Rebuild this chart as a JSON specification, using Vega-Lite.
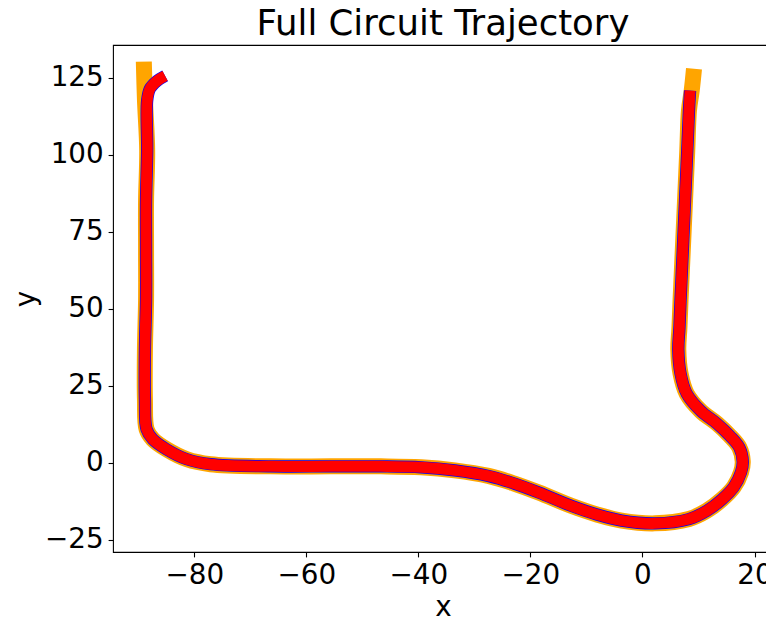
{
  "$schema": "https://vega.github.io/schema/vega-lite/v6.json",
  "autosize": {"type": "none"},
  "padding": {"left": 113, "top": 45, "right": 0, "bottom": 66},
  "width": 660,
  "height": 507,
  "background": "white",
  "title": {"text": "Full Circuit Trajectory", "font": "DejaVu Sans", "fontSize": 35.5, "fontWeight": "normal", "color": "black", "offset": 8.3, "dy": 34, "baseline": "alphabetic", "anchor": "middle"},
  "config": {
    "view": {"stroke": "black", "strokeWidth": 1.1},
    "axis": {"grid": false, "domain": false, "tickColor": "black", "tickSize": 4.9, "tickWidth": 1.1, "labelFont": "DejaVu Sans", "labelFontSize": 27.8, "labelColor": "black", "labelPadding": 4.9, "titleFont": "DejaVu Sans", "titleFontSize": 27.8, "titleFontWeight": "normal", "titleColor": "black", "titlePadding": 4, "labelFlush": false, "labelOverlap": false}
  },
  "datasets": {
    "track": [
      {"i": 0, "x": -89.0, "y": 130.3},
      {"i": 1, "x": -88.8, "y": 118.0},
      {"i": 2, "x": -88.4, "y": 101.5},
      {"i": 3, "x": -88.6, "y": 85.3},
      {"i": 4, "x": -88.6, "y": 69.1},
      {"i": 5, "x": -88.6, "y": 52.9},
      {"i": 6, "x": -88.8, "y": 36.8},
      {"i": 7, "x": -88.8, "y": 20.6},
      {"i": 8, "x": -88.5, "y": 10.9},
      {"i": 9, "x": -87.4, "y": 7.7},
      {"i": 10, "x": -84.9, "y": 4.4},
      {"i": 11, "x": -81.3, "y": 1.2},
      {"i": 12, "x": -77.1, "y": -0.4},
      {"i": 13, "x": -66.4, "y": -1.1},
      {"i": 14, "x": -55.6, "y": -1.1},
      {"i": 15, "x": -46.7, "y": -1.1},
      {"i": 16, "x": -39.5, "y": -1.4},
      {"i": 17, "x": -33.5, "y": -2.4},
      {"i": 18, "x": -27.5, "y": -4.2},
      {"i": 19, "x": -23.0, "y": -6.6},
      {"i": 20, "x": -18.5, "y": -9.6},
      {"i": 21, "x": -12.6, "y": -14.0},
      {"i": 22, "x": -8.0, "y": -16.8},
      {"i": 23, "x": -3.7, "y": -18.7},
      {"i": 24, "x": 2.2, "y": -19.6},
      {"i": 25, "x": 8.3, "y": -18.2},
      {"i": 26, "x": 11.5, "y": -15.5},
      {"i": 27, "x": 14.2, "y": -11.8},
      {"i": 28, "x": 16.3, "y": -7.8},
      {"i": 29, "x": 17.6, "y": -3.0},
      {"i": 30, "x": 17.9, "y": 0.5},
      {"i": 31, "x": 17.3, "y": 5.0},
      {"i": 32, "x": 15.6, "y": 8.8},
      {"i": 33, "x": 13.3, "y": 12.8},
      {"i": 34, "x": 10.4, "y": 16.9},
      {"i": 35, "x": 7.9, "y": 22.5},
      {"i": 36, "x": 6.8, "y": 29.0},
      {"i": 37, "x": 6.4, "y": 36.8},
      {"i": 38, "x": 6.6, "y": 43.9},
      {"i": 39, "x": 6.8, "y": 52.9},
      {"i": 40, "x": 7.2, "y": 69.1},
      {"i": 41, "x": 7.6, "y": 85.3},
      {"i": 42, "x": 8.0, "y": 101.5},
      {"i": 43, "x": 8.3, "y": 114.4},
      {"i": 44, "x": 8.8, "y": 121.0},
      {"i": 45, "x": 9.2, "y": 128.0}
    ],
    "traj": [
      {"i": 0, "x": -85.2, "y": 125.7},
      {"i": 1, "x": -86.6, "y": 124.1},
      {"i": 2, "x": -87.9, "y": 121.5},
      {"i": 3, "x": -88.4, "y": 117.7},
      {"i": 4, "x": -88.4, "y": 101.5},
      {"i": 5, "x": -88.6, "y": 85.3},
      {"i": 6, "x": -88.6, "y": 69.1},
      {"i": 7, "x": -88.6, "y": 52.9},
      {"i": 8, "x": -88.8, "y": 36.8},
      {"i": 9, "x": -88.8, "y": 20.6},
      {"i": 10, "x": -88.5, "y": 10.9},
      {"i": 11, "x": -87.4, "y": 7.7},
      {"i": 12, "x": -84.9, "y": 4.4},
      {"i": 13, "x": -81.3, "y": 1.2},
      {"i": 14, "x": -77.1, "y": -0.4},
      {"i": 15, "x": -66.4, "y": -1.1},
      {"i": 16, "x": -55.6, "y": -1.1},
      {"i": 17, "x": -46.7, "y": -1.1},
      {"i": 18, "x": -39.5, "y": -1.4},
      {"i": 19, "x": -33.5, "y": -2.4},
      {"i": 20, "x": -27.5, "y": -4.2},
      {"i": 21, "x": -23.0, "y": -6.6},
      {"i": 22, "x": -18.5, "y": -9.6},
      {"i": 23, "x": -12.6, "y": -14.0},
      {"i": 24, "x": -8.0, "y": -16.8},
      {"i": 25, "x": -3.7, "y": -18.7},
      {"i": 26, "x": 2.2, "y": -19.6},
      {"i": 27, "x": 8.3, "y": -18.2},
      {"i": 28, "x": 11.5, "y": -15.5},
      {"i": 29, "x": 14.2, "y": -11.8},
      {"i": 30, "x": 16.3, "y": -7.8},
      {"i": 31, "x": 17.6, "y": -3.0},
      {"i": 32, "x": 17.9, "y": 0.5},
      {"i": 33, "x": 17.3, "y": 5.0},
      {"i": 34, "x": 15.6, "y": 8.8},
      {"i": 35, "x": 13.3, "y": 12.8},
      {"i": 36, "x": 10.4, "y": 16.9},
      {"i": 37, "x": 7.9, "y": 22.5},
      {"i": 38, "x": 6.8, "y": 29.0},
      {"i": 39, "x": 6.4, "y": 36.8},
      {"i": 40, "x": 6.6, "y": 43.9},
      {"i": 41, "x": 6.8, "y": 52.9},
      {"i": 42, "x": 7.2, "y": 69.1},
      {"i": 43, "x": 7.6, "y": 85.3},
      {"i": 44, "x": 8.0, "y": 101.5},
      {"i": 45, "x": 8.3, "y": 114.4},
      {"i": 46, "x": 8.5, "y": 120.9}
    ]
  },
  "encoding": {
    "x": {"field": "x", "type": "quantitative", "scale": {"domain": [-94.5, 23.3], "nice": false, "zero": false}, "axis": {"values": [-80, -60, -40, -20, 0, 20], "title": "x"}},
    "y": {"field": "y", "type": "quantitative", "scale": {"domain": [-28.9, 135.7], "nice": false, "zero": false}, "axis": {"values": [-25, 0, 25, 50, 75, 100, 125], "title": "y"}},
    "order": {"field": "i", "type": "quantitative"}
  },
  "layer": [
    {"data": {"name": "track"}, "mark": {"type": "line", "color": "#FFA500", "strokeWidth": 16, "strokeCap": "butt", "strokeJoin": "round", "interpolate": "catmull-rom", "clip": true}},
    {"data": {"name": "traj"}, "mark": {"type": "line", "color": "#0000FF", "strokeWidth": 12.3, "strokeCap": "butt", "strokeJoin": "round", "interpolate": "catmull-rom", "clip": true}},
    {"data": {"name": "traj"}, "mark": {"type": "line", "color": "#FF0000", "strokeWidth": 11, "strokeCap": "butt", "strokeJoin": "round", "interpolate": "catmull-rom", "clip": true}}
  ]
}
